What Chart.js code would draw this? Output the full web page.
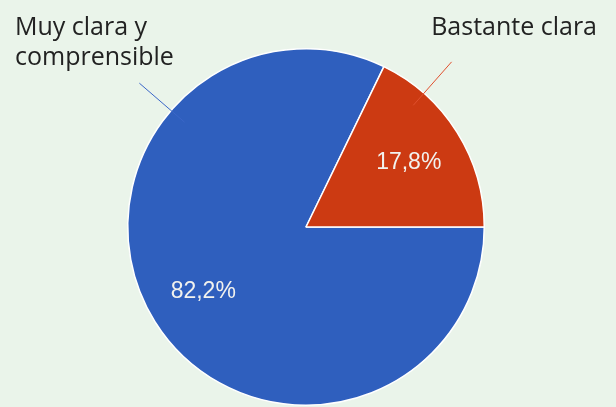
<!DOCTYPE html>
<html>
<head>
<meta charset="utf-8">
<script src="https://cdn.jsdelivr.net/npm/chart.js@4.4.1/dist/chart.umd.min.js"></script>
<style>
html,body{margin:0;padding:0;background:#eaf4ea;}
#wrap{width:616px;height:407px;position:relative;}
</style>
</head>
<body>
<div id="wrap"><canvas id="c" width="616" height="407"></canvas></div>
<script>
const categories = ["Muy clara y comprensible", "Bastante clara"];
const values = [82.2, 17.8];
const valueLabels = ["82,2%", "17,8%"];
const colors = ["#2f5fbe", "#cc3a12"];

const outsideLabels = {
  id: 'outsideLabels',
  afterDraw(chart) {
    const ctx = chart.ctx;
    const meta = chart.getDatasetMeta(0);
    const arc0 = meta.data[0];
    const cx = arc0.x, cy = arc0.y, r = arc0.outerRadius;
    ctx.save();
    // value labels inside slices
    ctx.fillStyle = '#f2f2ee';
    ctx.font = '23px "Liberation Sans", Arial, sans-serif';
    ctx.textAlign = 'center';
    ctx.textBaseline = 'middle';
    meta.data.forEach((a, i) => {
      const mid = (a.startAngle + a.endAngle) / 2;
      const d = r * 0.68;
      ctx.fillText(valueLabels[i], cx + Math.cos(mid) * d, cy + Math.sin(mid) * d);
    });
    // leader lines
    const leaders = [
      {ang: -139.2 * Math.PI / 180, r0: 0.9, r1: 1.235, color: '#3a66c8'},
      {ang: -48.6 * Math.PI / 180, r0: 0.91, r1: 1.235, color: '#e0502e'}
    ];
    ctx.lineWidth = 1;
    leaders.forEach(l => {
      ctx.strokeStyle = l.color;
      ctx.beginPath();
      ctx.moveTo(cx + Math.cos(l.ang) * r * l.r0, cy + Math.sin(l.ang) * r * l.r0);
      ctx.lineTo(cx + Math.cos(l.ang) * r * l.r1, cy + Math.sin(l.ang) * r * l.r1);
      ctx.stroke();
    });
    // category labels
    ctx.fillStyle = '#222222';
    ctx.font = '25px "Open Sans", sans-serif';
    ctx.textBaseline = 'alphabetic';
    ctx.textAlign = 'left';
    ctx.fillText('Muy clara y', 15, 35);
    ctx.fillText('comprensible', 15, 65);
    ctx.textAlign = 'right';
    ctx.fillText(categories[1], 597, 35);
    ctx.restore();
  }
};

new Chart(document.getElementById('c'), {
  type: 'pie',
  data: {
    labels: categories,
    datasets: [{
      data: values,
      backgroundColor: colors,
      borderColor: '#ffffff',
      borderWidth: 1.5
    }]
  },
  options: {
    responsive: false,
    animation: false,
    rotation: 90,
    layout: { padding: { top: 48, bottom: 1, left: 0, right: 4 } },
    plugins: { legend: { display: false }, tooltip: { enabled: false } }
  },
  plugins: [outsideLabels]
});
</script>
</body>
</html>
